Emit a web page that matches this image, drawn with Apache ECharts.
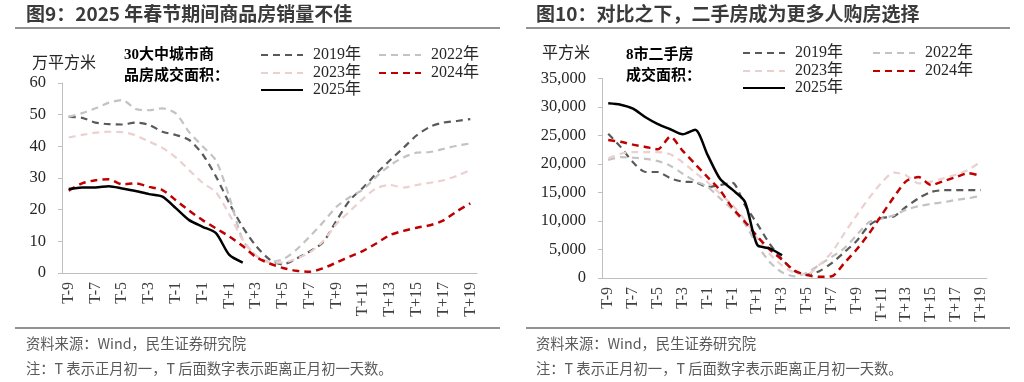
<!DOCTYPE html>
<html><head><meta charset="utf-8">
<script src="https://cdn.jsdelivr.net/npm/echarts@6/dist/echarts.min.js"></script>
<style>html,body{margin:0;padding:0;background:#fff}#c{width:1024px;height:382px}</style>
</head><body><div id="c"></div>
<script>
// ---- data ----
const categories = ['T-9','T-8','T-7','T-6','T-5','T-4','T-3','T-2','T-1','T-0','T-1','T','T+1','T+2','T+3','T+4','T+5','T+6','T+7','T+8','T+9','T+10','T+11','T+12','T+13','T+14','T+15','T+16','T+17','T+18','T+19'];
const seriesNames = ['2019年','2022年','2023年','2024年','2025年'];
// 30大中城市商品房成交面积（万平方米）
const new2019 = [49.3,49.0,47.5,47.0,46.9,47.5,46.8,44.6,43.6,42.0,37.5,30.5,22.0,14.5,8.5,4.3,2.7,4.5,6.8,9.7,16.5,23.0,27.0,31.5,35.6,39.5,43.5,46.2,47.5,48.0,48.6];
const new2022 = [49.3,50.5,52.0,53.8,54.6,51.8,51.4,52.0,50.4,44.5,40.0,35.5,24.0,10.5,5.5,3.5,4.3,7.3,11.5,16.0,20.9,24.0,26.4,30.5,34.0,36.5,38.0,38.2,39.2,40.2,40.9];
const new2023 = [42.8,43.6,44.3,44.6,44.5,43.5,41.5,39.5,36.5,32.5,28.5,25.5,18.5,10.5,5.5,3.3,3.3,4.5,6.5,10.0,15.5,19.5,23.5,26.8,27.8,27.0,27.8,28.5,29.3,30.7,32.5];
const new2024 = [26.0,28.3,29.3,29.6,28.0,28.3,27.2,26.2,23.0,19.7,16.7,14.1,11.5,8.5,5.0,3.0,1.6,0.7,0.4,1.5,3.3,5.2,7.0,9.4,12.0,13.3,14.3,15.1,16.6,19.5,22.0];
const new2025 = [26.5,27.0,27.0,27.4,26.7,25.9,24.9,24.1,20.5,16.7,14.6,12.6,5.7,3.3];
// 8市二手房成交面积（平方米）
const sec2019 = [25300,23000,20300,18600,18600,17500,16900,16800,16000,16300,16700,12800,9500,6000,3300,1200,600,1200,2600,4500,6500,9200,10500,10800,12500,14000,15100,15400,15400,15400,15400];
const sec2022 = [20700,21200,21100,20900,20500,19700,18300,17000,16000,14000,12000,9500,5800,2800,1000,300,900,2300,3700,5200,7500,9800,10400,11000,12000,12600,13000,13300,13700,14000,14400];
const sec2023 = [21000,21800,22100,22100,22100,21700,20300,18500,16800,14800,12800,10200,7000,4200,2200,900,600,2300,4500,7800,11000,14000,16700,18500,18000,16600,16900,17500,18100,19000,20400];
const sec2024 = [24200,23900,23400,23000,22600,24800,22300,20000,17700,15400,12300,9900,7300,5000,3200,1300,500,200,300,2600,5000,7800,11000,14200,17000,17700,16300,17000,17700,18400,17900];
const sec2025 = [30650,30400,29700,28200,27000,26100,25200,26000,21600,17400,15500,13400,5800,5200,4000];
const leftYTicks = {min:0, max:60, interval:10};
const rightYTicks = {min:0, max:35000, interval:5000};

// ---- styles ----
const styles = {
  '2019年': {color:'#595959', type:[7,5], width:2.2},
  '2022年': {color:'#c3c3c3', type:[7,5], width:2.2},
  '2023年': {color:'#ecd0d0', type:[7,5], width:2.2},
  '2024年': {color:'#c00000', type:[7,5], width:2.5},
  '2025年': {color:'#000000', type:'solid', width:2.5}
};
const serif = '"Liberation Serif","Times New Roman",serif';
const cjkSerif = '"Liberation Serif","Noto Sans CJK SC",serif';
const sans = '"Noto Sans CJK SC","Noto Sans",sans-serif';

function mkSeries(name, data, idx){
  const s = styles[name];
  return {name, type:'line', data, xAxisIndex:idx, yAxisIndex:idx, symbol:'none', smooth:0.25,
    lineStyle:{color:s.color, type:s.type, width:s.width}, itemStyle:{color:s.color},
    z: name==='2025年'?5:(name==='2024年'?4:3)};
}
function xAx(idx){
  return {type:'category', gridIndex:idx, data:categories, boundaryGap:true,
    axisLine:{lineStyle:{color:'#bfbfbf', width:1}},
    axisTick:{interval:1, length:4, lineStyle:{color:'#bfbfbf'}},
    axisLabel:{interval:1, rotate:90, color:'#404040', fontFamily:serif, fontSize:16, margin:9}};
}
function yAx(idx, t, fmt){
  return {type:'value', gridIndex:idx, min:t.min, max:t.max, interval:t.interval,
    axisLine:{show:true, lineStyle:{color:'#bfbfbf', width:1}},
    axisTick:{show:true, length:4, lineStyle:{color:'#bfbfbf'}},
    splitLine:{show:false},
    axisLabel:{color:'#262626', fontFamily:serif, fontSize:16.5, margin:16, formatter:fmt}};
}
function lg(name, left, top){
  return {data:[name], left, top, padding:0, itemWidth:42, itemHeight:12, itemGap:0,
    itemStyle:{opacity:0},
    textStyle:{fontFamily:cjkSerif, fontSize:16, color:'#262626', padding:[0,0,0,5]}, selectedMode:false};
}
const fmtComma = v => v.toLocaleString('en-US');

const option = {
  animation:false,
  backgroundColor:'#fff',
  grid:[
    {left:62, right:547, top:83, bottom:109, containLabel:false},
    {left:602, right:37, top:78.5, bottom:104, containLabel:false}
  ],
  xAxis:[xAx(0), xAx(1)],
  yAxis:[yAx(0, leftYTicks), yAx(1, rightYTicks, fmtComma)],
  legend:[
    lg('2019年',260,47), lg('2022年',378,47), lg('2023年',260,65), lg('2024年',378,65), lg('2025年',260,82),
    lg('2019年',742,45), lg('2022年',872,45), lg('2023年',742,63), lg('2024年',872,63), lg('2025年',742,80)
  ],
  series:[
    mkSeries('2019年', new2019, 0), mkSeries('2022年', new2022, 0), mkSeries('2023年', new2023, 0),
    mkSeries('2024年', new2024, 0), mkSeries('2025年', new2025, 0),
    mkSeries('2019年', sec2019, 1), mkSeries('2022年', sec2022, 1), mkSeries('2023年', sec2023, 1),
    mkSeries('2024年', sec2024, 1), mkSeries('2025年', sec2025, 1)
  ],
  graphic:[
    {type:'text', left:26, top:4, style:{text:'图9：2025 年春节期间商品房销量不佳', font:'bold 19px '+sans, fill:'#3a3a3a'}},
    {type:'text', left:536, top:4, style:{text:'图10：对比之下，二手房成为更多人购房选择', font:'bold 19px '+sans, fill:'#3a3a3a'}},
    {type:'line', shape:{x1:15, y1:28, x2:500, y2:28}, style:{stroke:'#6e6e6e', lineWidth:1.5}},
    {type:'line', shape:{x1:526, y1:28, x2:1010, y2:28}, style:{stroke:'#6e6e6e', lineWidth:1.5}},
    {type:'line', shape:{x1:15, y1:328, x2:500, y2:328}, style:{stroke:'#6e6e6e', lineWidth:1.5}},
    {type:'line', shape:{x1:526, y1:328, x2:1010, y2:328}, style:{stroke:'#6e6e6e', lineWidth:1.5}},
    {type:'text', left:32, top:56, style:{text:'万平方米', font:'16px '+cjkSerif, fill:'#262626'}},
    {type:'text', left:542, top:46, style:{text:'平方米', font:'16px '+cjkSerif, fill:'#262626'}},
    {type:'text', left:124, top:45, style:{text:'30大中城市商\n品房成交面积：', font:'bold 15px '+cjkSerif, fill:'#000', lineHeight:21}},
    {type:'text', left:626, top:45, style:{text:'8市二手房\n成交面积：', font:'bold 15px '+cjkSerif, fill:'#000', lineHeight:21}},
    {type:'text', left:26, top:336, style:{text:'资料来源：Wind，民生证券研究院', font:'14.3px '+sans, fill:'#595959'}},
    {type:'text', left:26, top:361, style:{text:'注：T 表示正月初一，T 后面数字表示距离正月初一天数。', font:'14.3px '+sans, fill:'#595959'}},
    {type:'text', left:536, top:336, style:{text:'资料来源：Wind，民生证券研究院', font:'14.3px '+sans, fill:'#595959'}},
    {type:'text', left:536, top:361, style:{text:'注：T 表示正月初一，T 后面数字表示距离正月初一天数。', font:'14.3px '+sans, fill:'#595959'}}
  ]
};
const chart = echarts.init(document.getElementById('c'), null, {renderer:'canvas', width:1024, height:382});
chart.setOption(option);
</script>
</body></html>
